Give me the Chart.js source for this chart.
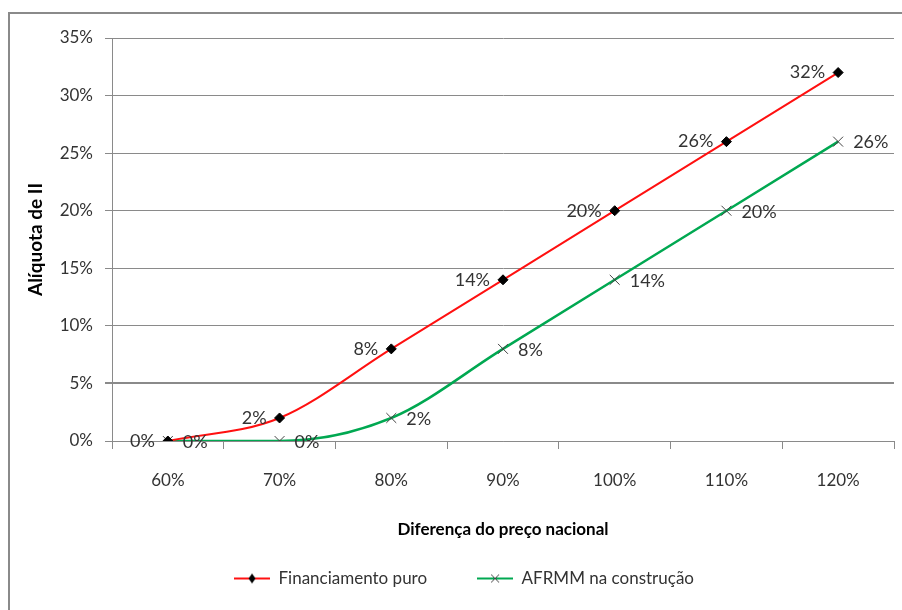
<!DOCTYPE html>
<html>
<head>
<meta charset="utf-8">
<script src="https://cdn.jsdelivr.net/npm/chart.js@4"></script>
<style>
  body { margin: 0; background: #fff; }
  canvas { display: block; }
</style>
</head>
<body>
<canvas id="chart" width="902" height="610"></canvas>
<script>
// dados
let categorias = ['60%', '70%', '80%', '90%', '100%', '110%', '120%'];
let financiamentoPuro = [0, 2, 8, 14, 20, 26, 32];
let afrmmConstrucao = [0, 0, 2, 8, 14, 20, 26];
let ticksY = [0, 5, 10, 15, 20, 25, 30, 35];

let fonte = 'Lato, "Open Sans", sans-serif';
let corTexto = '#333';

// imagem da legenda: linha + marcador
function legendaImg(cor, tipo) {
    let c = document.createElement('canvas');
    c.width = 36;
    c.height = 14;
    let g = c.getContext('2d');
    g.strokeStyle = cor;
    g.lineWidth = 2;
    g.beginPath();
    g.moveTo(0, 7);
    g.lineTo(36, 7);
    g.stroke();
    if (tipo === 'diamante') {
        g.fillStyle = '#000';
        g.beginPath();
        g.moveTo(18, 2);
        g.lineTo(21.5, 7);
        g.lineTo(18, 12);
        g.lineTo(14.5, 7);
        g.closePath();
        g.fill();
    } else {
        g.strokeStyle = '#444';
        g.lineWidth = 1;
        g.beginPath();
        g.moveTo(14, 3); g.lineTo(22, 11);
        g.moveTo(22, 3); g.lineTo(14, 11);
        g.stroke();
    }
    return c;
}

// moldura cinza (esquerda e topo)
let moldura = {
    id: 'moldura',
    beforeDraw(chart) {
        let ctx = chart.ctx;
        ctx.save();
        ctx.fillStyle = '#fff';
        ctx.fillRect(0, 0, chart.width, chart.height);
        ctx.strokeStyle = '#8a8a8a';
        ctx.lineWidth = 2;
        ctx.strokeRect(9, 13, 1200, 1200);
        ctx.restore();
    }
};

// rótulos de dados (à esquerda para a série 0, à direita para a série 1)
let rotulos = {
    id: 'rotulos',
    afterDatasetsDraw(chart) {
        let ctx = chart.ctx;
        ctx.save();
        ctx.font = '18px ' + fonte;
        ctx.fillStyle = corTexto;
        ctx.textBaseline = 'middle';
        chart.data.datasets.forEach((ds, i) => {
            let meta = chart.getDatasetMeta(i);
            meta.data.forEach((pt, j) => {
                let txt = ds.data[j] + '%';
                if (i === 0) {
                    ctx.textAlign = 'right';
                    ctx.fillText(txt, pt.x - 13, pt.y);
                } else {
                    ctx.textAlign = 'left';
                    ctx.fillText(txt, pt.x + 15, pt.y + 1);
                }
            });
        });
        ctx.restore();
    }
};

let ctx = document.getElementById('chart').getContext('2d');
let chart = new Chart(ctx, {
    type: 'line',
    data: {
        labels: categorias,
        datasets: [{
            label: 'Financiamento puro',
            data: financiamentoPuro,
            borderColor: '#ff1010',
            borderWidth: 2,
            cubicInterpolationMode: 'monotone',
            pointStyle: 'rectRot',
            pointRadius: 5,
            pointBackgroundColor: '#000',
            pointBorderColor: '#000',
            pointBorderWidth: 1
        }, {
            label: 'AFRMM na construção',
            data: afrmmConstrucao,
            borderColor: '#00a851',
            borderWidth: 2.5,
            cubicInterpolationMode: 'monotone',
            pointStyle: 'crossRot',
            pointRadius: 7,
            pointBorderColor: '#444',
            pointBorderWidth: 1
        }]
    },
    options: {
        responsive: false,
        animation: false,
        layout: { padding: { left: 34, right: 8, top: 38, bottom: 13 } },
        plugins: {
            tooltip: { enabled: false },
            legend: {
                position: 'bottom',
                labels: {
                    usePointStyle: true,
                    pointStyleWidth: 36,
                    padding: 50,
                    color: corTexto,
                    font: { family: fonte, size: 17 },
                    generateLabels(chart) {
                        return chart.data.datasets.map((ds, i) => ({
                            text: ds.label,
                            pointStyle: legendaImg(ds.borderColor, i === 0 ? 'diamante' : 'x'),
                            fillStyle: ds.borderColor,
                            strokeStyle: ds.borderColor,
                            lineWidth: 0,
                            fontColor: corTexto,
                            datasetIndex: i
                        }));
                    }
                }
            }
        },
        scales: {
            x: {
                offset: true,
                grid: {
                    offset: true,
                    drawOnChartArea: false,
                    tickLength: 8,
                    color: '#8a8a8a'
                },
                border: { color: '#8a8a8a', width: 1 },
                ticks: {
                    padding: 21,
                    color: corTexto,
                    font: { family: fonte, size: 17 }
                },
                title: {
                    display: true,
                    text: 'Diferença do preço nacional',
                    color: '#000',
                    font: { family: fonte, size: 17, weight: 'bold' },
                    padding: { top: 0, bottom: -20 }
                },
                afterFit(s) { s.height = 79; }
            },
            y: {
                min: ticksY[0],
                max: ticksY[ticksY.length - 1],
                afterBuildTicks(s) { s.ticks = ticksY.map(v => ({ value: v })); },
                grid: {
                    tickLength: 7,
                    color: '#8a8a8a',
                    lineWidth: c => (c.tick && c.tick.value === 5 ? 2 : 1)
                },
                border: { color: '#8a8a8a', width: 1 },
                ticks: {
                    padding: 12,
                    color: corTexto,
                    font: { family: fonte, size: 17 },
                    callback: v => v + '%'
                },
                title: {
                    display: true,
                    text: 'Alíquota de II',
                    color: '#000',
                    font: { family: fonte, size: 19, weight: 'bold' },
                    padding: { top: -10, bottom: 0 }
                },
                afterFit(s) { s.width = 78; }
            }
        }
    },
    plugins: [moldura, rotulos]
});
</script>
</body>
</html>
